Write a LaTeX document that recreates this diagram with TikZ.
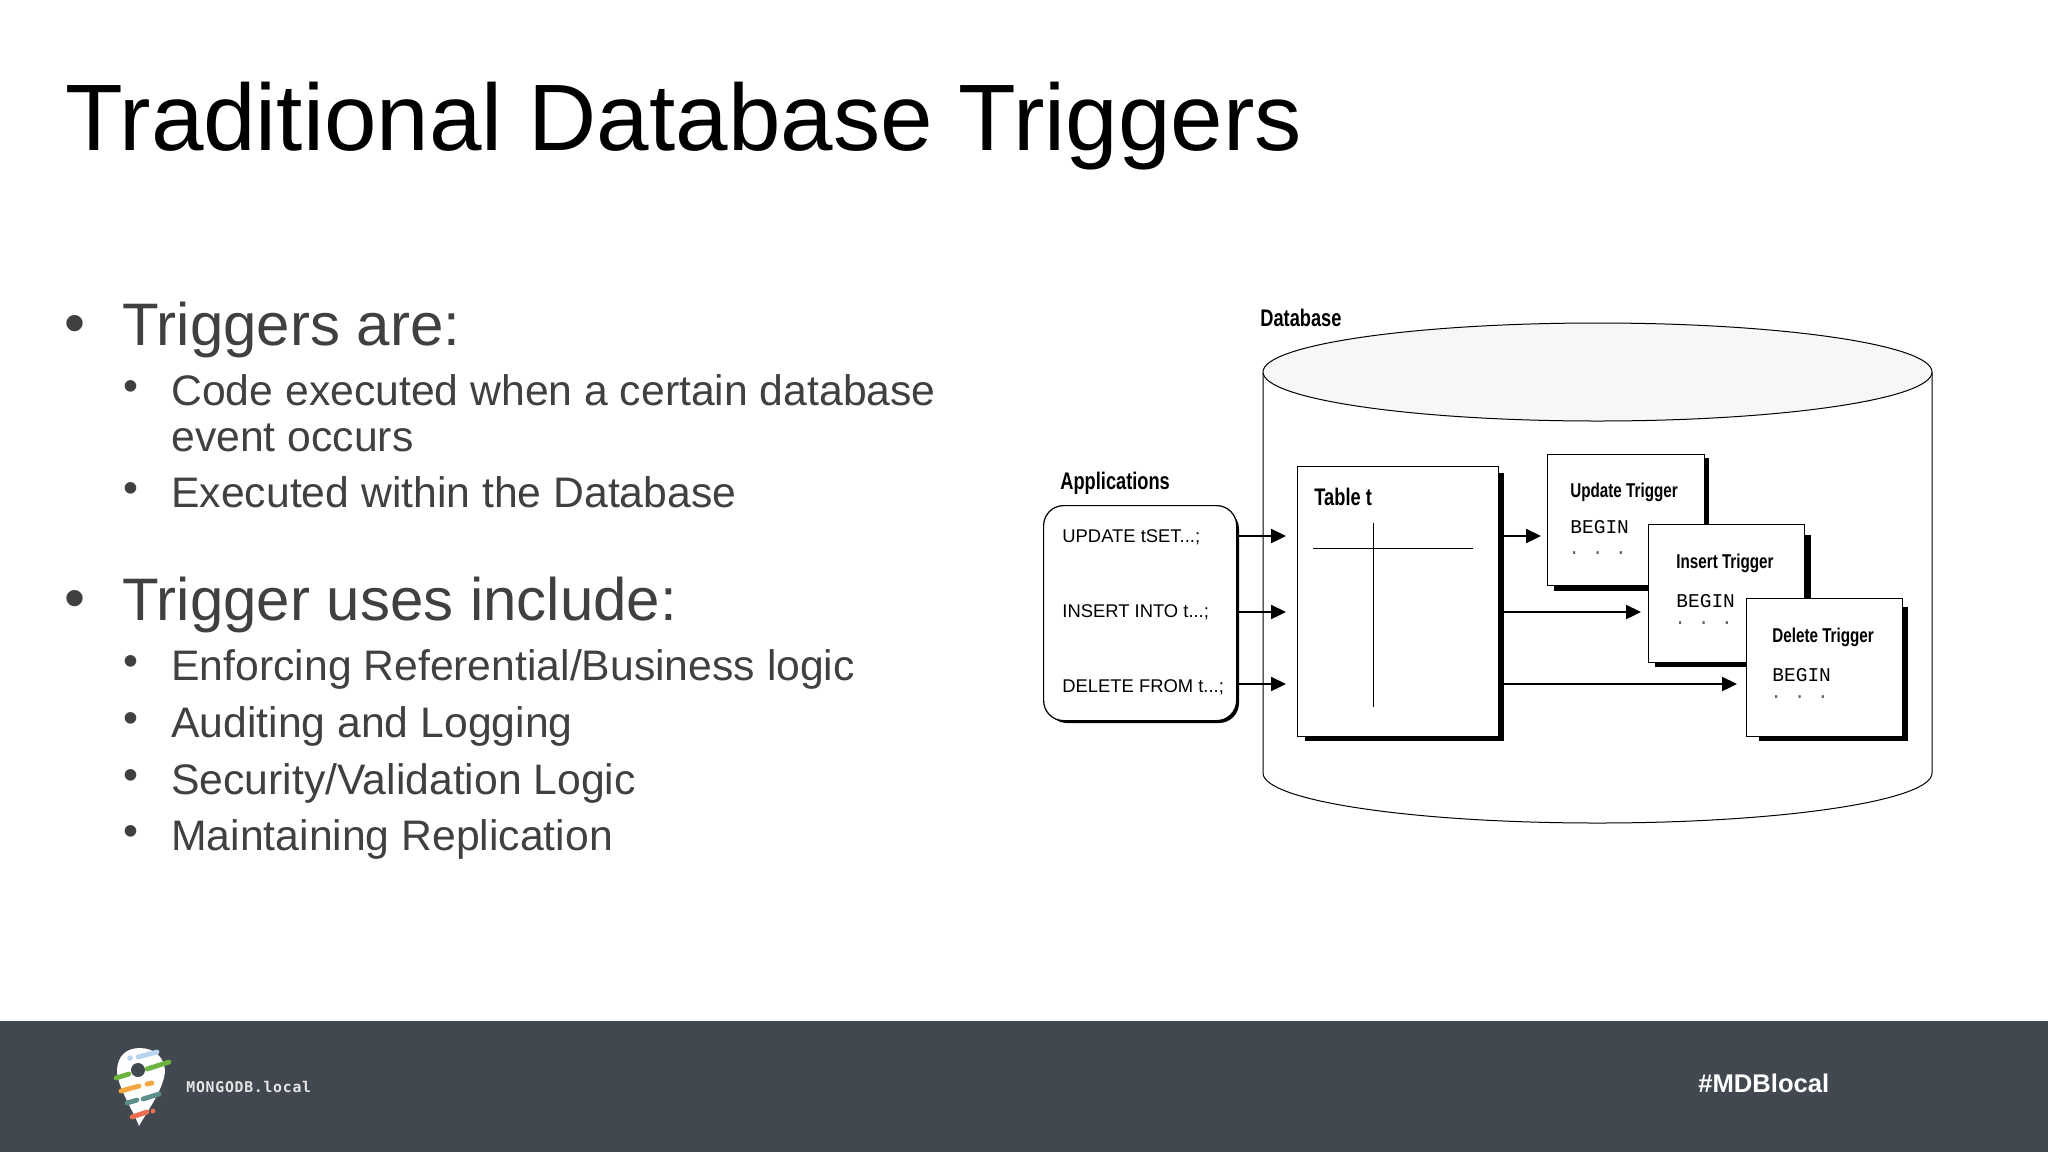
\documentclass[tikz,border=0pt]{standalone}
\usepackage{fontspec}
\setmainfont{Liberation Sans}
\newfontfamily\narrowfont[FakeStretch=0.76]{Liberation Sans}
\newfontfamily\monofont{Liberation Mono}
\newfontfamily\logofont[LetterSpace=5]{DejaVu Sans Mono}
\usepackage{tikz}
\usetikzlibrary{positioning, shapes.geometric, arrows.meta}
\definecolor{bodygrey}{HTML}{404040}
\definecolor{footergrey}{HTML}{42484F}
\definecolor{pingreen}{HTML}{6CB33F}
\definecolor{pinorange}{HTML}{F5A742}
\definecolor{pinteal}{HTML}{5F8F8C}
\definecolor{pinred}{HTML}{EE6F50}
\definecolor{pinblue}{HTML}{B8D4F0}
\tikzset{
  txt/.style={inner sep=0pt, anchor=base west},
  bigitem/.style={txt, text=bodygrey, font=\fontsize{30}{36}\selectfont},
  smallitem/.style={txt, text=bodygrey, font=\fontsize{21.35}{23}\selectfont},
  heading/.style={txt, font=\narrowfont\bfseries\fontsize{12}{14}\selectfont},
  trigname/.style={txt, font=\narrowfont\bfseries\fontsize{10}{12}\selectfont},
  stmt/.style={txt, font=\fontsize{9.2}{11}\selectfont},
  code/.style={txt, font=\monofont\fontsize{9.75}{12}\selectfont},
  codedots/.style={code, text=black!60},
  panel/.style={draw, fill=white, line width=.6pt, inner sep=0pt, anchor=north west},
  flow/.style={-{Triangle[length=7.5pt,width=7pt]}, line width=1.1pt},
  stripe/.style={line width=2.4pt, line cap=round}
}
\begin{document}
\frenchspacing
\begin{tikzpicture}[x=.5pt, y=-.5pt]
  \useasboundingbox (0,0) rectangle (2048,1152);

  % slide text
  \node[txt, font=\fontsize{47.2}{56}\selectfont] (title) at (65,150) {Traditional Database Triggers};
  \node[bigitem] (b1) at (64,343) {•};
  \node[bigitem] (i1) at (122,345) {Triggers are:};
  \node[smallitem] (b11) at (123,400) {•};
  \node[smallitem] (i11) at (171,405) {Code executed when a certain database};
  \node[smallitem] (i11b) at (171,451) {event occurs};
  \node[smallitem] (b12) at (123,502) {•};
  \node[smallitem] (i12) at (171,507) {Executed within the Database};
  \node[bigitem] (b2) at (64,618) {•};
  \node[bigitem] (i2) at (122,620) {Trigger uses include:};
  \node[smallitem] (b21) at (123,675) {•};
  \node[smallitem] (i21) at (171,680) {Enforcing Referential/Business logic};
  \node[smallitem] (b22) at (123,732) {•};
  \node[smallitem] (i22) at (171,737) {Auditing and Logging};
  \node[smallitem] (b23) at (123,789) {•};
  \node[smallitem] (i23) at (171,794) {Security/Validation Logic};
  \node[smallitem] (b24) at (123,845) {•};
  \node[smallitem] (i24) at (171,850) {Maintaining Replication};

  % database cylinder
  \draw[line width=.5pt] (1263,372) -- (1263,773) arc[start angle=180, end angle=0, x radius=334.5, y radius=50] -- (1932,372);
  \node[draw, ellipse, fill=black!3, line width=.5pt, inner sep=0pt, minimum width=334.5pt, minimum height=49pt] (dbtop) at (1597.5,372) {};
  \node[heading] (dbname) at (1260,326) {Database};

  % applications
  \node[heading] (appname) at (1060,489) {Applications};
  \fill[rounded corners=10pt] (1047,509) rectangle (1239,723);
  \node[panel, rounded corners=10pt, minimum width=96.5pt, minimum height=107.5pt] (apps) at (1043,505) {};
  \node[stmt] (upstmt) at (1062,542) {UPDATE tSET...;};
  \node[stmt] (insstmt) at (1062,617) {INSERT INTO t...;};
  \node[stmt] (delstmt) at (1062,692) {DELETE FROM t...;};

  % table t
  \fill (1305,473) rectangle (1504,741);
  \node[panel, minimum width=100.5pt, minimum height=135pt] (tablet) at (1297,466) {};
  \node[heading] (tablename) at (1314,505) {Table t};
  \coordinate (colhead) at (1373,523);
  \coordinate (colfoot) at (1373,707);
  \coordinate (rowleft) at (1313,548);
  \coordinate (rowright) at (1473,548);
  \draw[line width=.45pt] (colhead) -- (colfoot);
  \draw[line width=.45pt] (rowleft) -- (rowright);

  % update trigger
  \fill (1554,458) rectangle (1709,591);
  \node[panel, minimum width=78.5pt, minimum height=65.5pt] (updatebox) at (1547,454) {};
  \node[trigname] (updatename) at (1570,497) {Update Trigger};
  \node[code] (updatecode) at (1570,533) {BEGIN};
  \node[codedots] (updatedots) at (1568,554) {. . .};

  % insert trigger
  \fill (1655,535) rectangle (1811,667);
  \node[panel, minimum width=78pt, minimum height=69pt] (insertbox) at (1648,524) {};
  \node[trigname] (insertname) at (1676,568) {Insert Trigger};
  \node[code] (insertcode) at (1676,607) {BEGIN};
  \node[codedots] (insertdots) at (1674,624) {. . .};

  % delete trigger
  \fill (1759,607) rectangle (1908,741);
  \node[panel, minimum width=78pt, minimum height=69pt] (deletebox) at (1746,598) {};
  \node[trigname] (deletename) at (1772,642) {Delete Trigger};
  \node[code] (deletecode) at (1772,681) {BEGIN};
  \node[codedots] (deletedots) at (1770,698) {. . .};

  % arrows
  \coordinate (uprow) at (1400,536);
  \coordinate (insrow) at (1400,612);
  \coordinate (delrow) at (1400,684);
  \draw[flow, shorten >=5.5pt] (apps.east |- uprow) -- (tablet.west |- uprow);
  \draw[flow, shorten >=5.5pt] (apps.east |- insrow) -- (tablet.west |- insrow);
  \draw[flow, shorten >=5.5pt] (apps.east |- delrow) -- (tablet.west |- delrow);
  \draw[flow, shorten >=3pt] (tablet.east |- uprow) -- (updatebox.west |- uprow);
  \draw[flow, shorten >=3.5pt] (tablet.east |- insrow) -- (insertbox.west |- insrow);
  \draw[flow, shorten >=4.5pt] (tablet.east |- delrow) -- (deletebox.west |- delrow);

  % footer
  \node[fill=footergrey, inner sep=0pt, anchor=north west, minimum width=1024pt, minimum height=65.5pt] (footer) at (0,1021) {};
  \node[txt, text=white, font=\bfseries\fontsize{12.8}{15}\selectfont] (hashtag) at (1698,1092) {\#MDBlocal};
  \node[txt, text=black!10, font=\logofont\bfseries\fontsize{7.4}{9}\selectfont] (logoname) at (186,1092) {MONGODB.local};

  % logo pin
  \fill[white] (117,1072) .. controls (117,1055) and (127,1048) .. (140,1048) .. controls (155,1048) and (165,1058) .. (165,1072)
    .. controls (163,1090) and (148,1110) .. (139,1126) .. controls (133,1110) and (119,1090) .. (117,1072) -- cycle;
  \fill[footergrey] (138,1070) circle[radius=3.5pt];
  \draw[stripe, color=pingreen] (116,1078) -- (129,1074);
  \draw[stripe, color=pingreen] (147,1069) -- (169,1062);
  \draw[stripe, color=pinorange] (121,1091) -- (139,1086);
  \draw[stripe, color=pinorange] (147,1084) -- (152,1083);
  \draw[stripe, color=pinteal] (127,1103) -- (137,1100);
  \draw[stripe, color=pinteal] (143,1099) -- (159,1094);
  \draw[stripe, color=pinred] (132,1117) -- (147,1112);
  \fill[pinred] (153,1111) circle[radius=1.2pt];
  \draw[stripe, color=pinblue] (138,1057) -- (157,1052);
  \fill[pinblue] (130,1058) circle[radius=1.4pt];
\end{tikzpicture}
\end{document}
